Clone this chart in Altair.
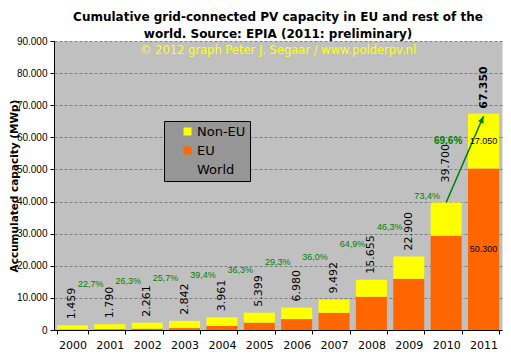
import altair as alt
import pandas as pd

years = [str(y) for y in range(2000, 2012)]
eu = [185, 265, 400, 600, 1300, 2290, 3400, 5350, 10350, 15950, 29350, 50300]
non_eu = [1274, 1525, 1861, 2242, 2661, 3109, 3580, 4142, 5305, 6950, 10350, 17050]
world = [1459, 1790, 2261, 2842, 3961, 5399, 6980, 9492, 15655, 22900, 39700, 67350]
growth_labels = ["22,7%", "26,3%", "25,7%", "39,4%", "36,3%", "29,3%", "36,0%",
                 "64,9%", "46,3%", "73,4%", "69,6%"]
growth_label_y = [14300, 15350, 16200, 17200, 18800, 21100, 22800, 26700, 32200, 41800, 58900]
series_names = ["Non-EU", "EU", "World"]
series_colors = ["#FFFF00", "#FF6600", "transparent"]
copyright_text = "© 2012 graph Peter J. Segaar / www.polderpv.nl"

rows = []
for yr, e, n in zip(years, eu, non_eu):
    rows.append({"year": yr, "series": "EU", "lo": 0, "hi": e})
    rows.append({"year": yr, "series": "Non-EU", "lo": e, "hi": e + n})
bars_df = pd.DataFrame(rows)

tot_df = pd.DataFrame({"year": years, "world": world})
tot_df["label"] = [f"{v:,}".replace(",", ".") for v in world]

growth_df = pd.DataFrame({"year": years[1:], "y": growth_label_y, "label": growth_labels})

arrow_df = pd.DataFrame({"year": ["2010", "2011"], "v": [world[10], 66600]})
head_df = arrow_df.iloc[[1]]

inner_df = pd.DataFrame({
    "year": ["2011", "2011"],
    "v": [eu[-1] / 2, eu[-1] + non_eu[-1] / 2],
    "label": [f"{eu[-1]:,}".replace(",", "."), f"{non_eu[-1]:,}".replace(",", ".")],
})

copy_df = pd.DataFrame({"year": ["2005"], "v": [87000], "label": [copyright_text]})

xscale = alt.Scale(domain=years, paddingInner=0.17, paddingOuter=0.08)
xaxis = alt.Axis(title=None, labelAngle=0, tickBand="extent", tickSize=4,
                 labelFont="DejaVu Sans", labelFontSize=11, labelColor="black",
                 domainColor="black", tickColor="black", labelPadding=5, grid=False)
yscale = alt.Scale(domain=[0, 90000], nice=False)
yaxis = alt.Axis(title="Accumulated capacity (MWp)", values=list(range(0, 90001, 10000)),
                 labelExpr="replace(format(datum.value, ','), ',', '.')",
                 labelFont="Liberation Sans", labelFontSize=10, labelColor="black",
                 titleFont="DejaVu Sans", titleFontSize=10.5, titleFontWeight="bold",
                 titleColor="black", titleX=-35, tickSize=4, labelPadding=3,
                 domainColor="black", tickColor="black", grid=True,
                 gridColor="#808080", gridDash=[3, 2])


def X():
    return alt.X("year:N", scale=xscale, axis=xaxis)


def Y(field):
    return alt.Y(f"{field}:Q", scale=yscale, axis=yaxis)


bars = alt.Chart(bars_df).mark_bar().encode(
    x=X(), y=Y("lo"), y2="hi",
    color=alt.Color("series:N", title=None,
                    scale=alt.Scale(domain=series_names, range=series_colors),
                    legend=alt.Legend(orient="none", legendX=110, legendY=80,
                                      symbolType="square", symbolSize=64,
                                      symbolStrokeWidth=0, labelFont="DejaVu Sans",
                                      labelFontSize=13, labelColor="black",
                                      labelExpr="datum.label + '\u00a0\u00a0'",
                                      padding=4, symbolOffset=13, labelOffset=3,
                                      rowPadding=5, fillColor="#969696",
                                      strokeColor="black")),
)

tot_main = alt.Chart(tot_df[tot_df.year <= "2009"]).mark_text(
    angle=270, align="left", baseline="middle", dx=6, font="DejaVu Sans",
    fontSize=11, color="black").encode(x=X(), y=Y("world"), text="label:N")
tot_2010 = alt.Chart(tot_df[tot_df.year == "2010"]).mark_text(
    angle=270, align="left", baseline="middle", dx=20, font="DejaVu Sans",
    fontSize=11, color="black").encode(x=X(), y=Y("world"), text="label:N")
tot_2011 = alt.Chart(tot_df[tot_df.year == "2011"]).mark_text(
    angle=270, align="left", baseline="middle", dx=5, font="DejaVu Sans",
    fontSize=11, fontWeight="bold", color="black").encode(x=X(), y=Y("world"), text="label:N")

growth = alt.Chart(growth_df[growth_df.year != "2011"]).mark_text(
    dx=-19, font="Liberation Sans", fontSize=9, color="#008000").encode(
    x=X(), y=Y("y"), text="label:N")
growth_last = alt.Chart(pd.DataFrame({"year": ["2010"], "y": [growth_label_y[-1]],
                                      "label": [growth_labels[-1]]})).mark_text(
    dx=2, font="Liberation Sans", fontSize=10, fontWeight="bold", color="#008000").encode(
    x=X(), y=Y("y"), text="label:N")

arrow = alt.Chart(arrow_df).mark_line(color="#008000", strokeWidth=1.5).encode(
    x=X(), y=Y("v"))
head = alt.Chart(head_df).mark_point(shape="M0,0L-1,2.3L1,2.3Z", angle=23, filled=True,
                                     size=36, color="#008000", opacity=1).encode(
    x=X(), y=Y("v"))

inner = alt.Chart(inner_df).mark_text(font="Liberation Sans", fontSize=9,
                                      color="black").encode(x=X(), y=Y("v"), text="label:N")

copyr = alt.Chart(copy_df).mark_text(dx=18.7, font="DejaVu Sans", fontSize=11.5,
                                     color="#FFFF00").encode(x=X(), y=Y("v"), text="label:N")

chart = alt.layer(bars, tot_main, tot_2010, tot_2011, growth, growth_last, arrow, head,
                  inner, copyr).properties(
    width=448, height=289,
    padding={"left": 46, "top": 33, "right": 1, "bottom": 23},
    autosize=alt.AutoSizeParams(type="none"),
    background="white",
    title=alt.TitleParams(
        text=["Cumulative grid-connected PV capacity in EU and rest of the",
              "world. Source: EPIA (2011: preliminary)"],
        font="DejaVu Sans", fontSize=12, fontWeight="bold", color="black",
        anchor="middle", frame="group", offset=-5, lineHeight=17),
).configure_view(fill="#C0C0C0", stroke="transparent")

chart.save("out.html", embed_options={"renderer": "svg", "actions": False})
